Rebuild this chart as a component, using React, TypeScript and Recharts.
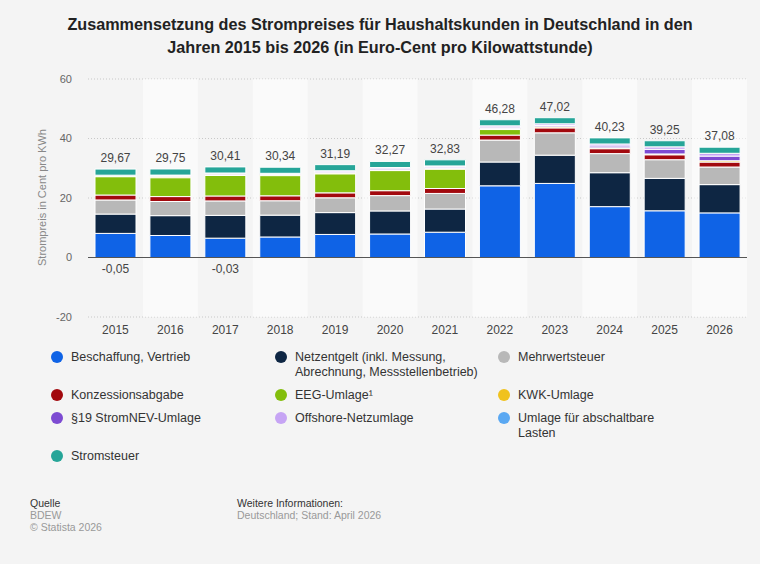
import React from 'react'
import {
  BarChart,
  Bar,
  XAxis,
  YAxis,
  CartesianGrid,
  ReferenceLine,
  ReferenceArea,
  LabelList,
} from 'recharts'

// Werte in Euro-Cent pro kWh
const years = ['2015', '2016', '2017', '2018', '2019', '2020', '2021', '2022', '2023', '2024', '2025', '2026']
const totals = [29.67, 29.75, 30.41, 30.34, 31.19, 32.27, 32.83, 46.28, 47.02, 40.23, 39.25, 37.08]
const beschaffung = [8.1, 7.4, 6.5, 6.9, 7.75, 7.9, 8.5, 24.1, 24.9, 17.1, 15.7, 15.0]
const netzentgelt = [6.5, 6.67, 7.66, 7.34, 7.34, 7.75, 7.79, 8.0, 9.5, 11.4, 10.9, 9.5]
const mehrwertsteuer = [4.74, 4.75, 4.86, 4.84, 4.98, 5.15, 5.24, 7.39, 7.51, 6.42, 6.27, 5.92]
const konzession = [1.66, 1.66, 1.66, 1.66, 1.66, 1.66, 1.66, 1.66, 1.66, 1.66, 1.66, 1.66]
const eeg = [6.17, 6.35, 6.88, 6.79, 6.41, 6.76, 6.5, 1.86, 0, 0, 0, 0]
const kwk = [0.25, 0.45, 0.44, 0.35, 0.28, 0.23, 0.25, 0.38, 0.36, 0.28, 0.28, 0.45]
const stromnev = [0.24, 0.38, 0.39, 0.37, 0.31, 0.36, 0.43, 0.44, 0.42, 0.64, 1.56, 1.56]
const offshore = [-0.05, 0.04, -0.03, 0.04, 0.42, 0.42, 0.4, 0.42, 0.59, 0.66, 0.82, 0.94]
const abschaltbar = [0.01, 0, 0.01, 0.01, 0.01, 0.01, 0.01, 0, 0, 0, 0, 0]
const stromsteuer = [2.05, 2.05, 2.05, 2.05, 2.05, 2.05, 2.05, 2.05, 2.05, 2.05, 2.05, 2.05]

const series = [
  { key: 'beschaffung', name: 'Beschaffung, Vertrieb', color: '#0f63e6', values: beschaffung },
  { key: 'netzentgelt', name: 'Netzentgelt (inkl. Messung, Abrechnung, Messstellenbetrieb)', color: '#0e2643', values: netzentgelt },
  { key: 'mwst', name: 'Mehrwertsteuer', color: '#b8b8b8', values: mehrwertsteuer },
  { key: 'konzession', name: 'Konzessionsabgabe', color: '#a2090e', values: konzession },
  { key: 'eeg', name: 'EEG-Umlage¹', color: '#83be0c', values: eeg },
  { key: 'kwk', name: 'KWK-Umlage', color: '#f0c21e', values: kwk },
  { key: 'stromnev', name: '§19 StromNEV-Umlage', color: '#7d4bd2', values: stromnev },
  { key: 'offshore', name: 'Offshore-Netzumlage', color: '#c6a4f4', values: offshore },
  { key: 'abschaltbar', name: 'Umlage für abschaltbare Lasten', color: '#5aa8f2', values: abschaltbar },
  { key: 'stromsteuer', name: 'Stromsteuer', color: '#26a598', values: stromsteuer },
]

// Legende: Zeilen mit je drei Spalten, Zeilenumbrüche wie im Original
const legendRows = [
  [
    { key: 'beschaffung', lines: ['Beschaffung, Vertrieb'] },
    { key: 'netzentgelt', lines: ['Netzentgelt (inkl. Messung,', 'Abrechnung, Messstellenbetrieb)'] },
    { key: 'mwst', lines: ['Mehrwertsteuer'] },
  ],
  [
    { key: 'konzession', lines: ['Konzessionsabgabe'] },
    { key: 'eeg', lines: ['EEG-Umlage¹'] },
    { key: 'kwk', lines: ['KWK-Umlage'] },
  ],
  [
    { key: 'stromnev', lines: ['§19 StromNEV-Umlage'] },
    { key: 'offshore', lines: ['Offshore-Netzumlage'] },
    { key: 'abschaltbar', lines: ['Umlage für abschaltbare', 'Lasten'] },
  ],
  [{ key: 'stromsteuer', lines: ['Stromsteuer'] }],
]

const data = years.map((year, i) => {
  const row: Record<string, string | number> = { year }
  series.forEach(s => { row[s.key] = s.values[i] })
  return row
})

const fmt = (v: number) => v.toFixed(2).replace('.', ',')
const FONT = "'Liberation Sans', Arial, Helvetica, sans-serif"

const TotalLabel = (props: any) => {
  const { x, y, width, index } = props
  return (
    <text x={x + width / 2} y={y - 7} textAnchor="middle" fill="#444" fontSize={12}>
      {fmt(totals[index])}
    </text>
  )
}

const NegativeLabel = (props: any) => {
  const { x, y, width, value, height } = props
  if (value >= 0) return null
  return (
    <text x={x + width / 2} y={y + Math.abs(height) + 15} textAnchor="middle" fill="#444" fontSize={12}>
      {fmt(value)}
    </text>
  )
}

const colorOf = (key: string) => series.find(s => s.key === key)!.color

export default function App() {
  return (
    <div
      style={{
        position: 'absolute',
        left: 0,
        top: 0,
        width: 760,
        height: 564,
        background: '#f4f4f4',
        fontFamily: FONT,
        overflow: 'hidden',
      }}
    >
      <div
        style={{
          position: 'absolute',
          top: 13,
          left: 0,
          width: 760,
          textAlign: 'center',
          fontWeight: 'bold',
          fontSize: 16.2,
          lineHeight: '23px',
          color: '#222',
        }}
      >
        Zusammensetzung des Strompreises für Haushaltskunden in Deutschland in den
        <br />
        Jahren 2015 bis 2026 (in Euro-Cent pro Kilowattstunde)
      </div>

      <div style={{ position: 'absolute', top: 0, left: 0 }}>
        <BarChart
          width={760}
          height={345}
          data={data}
          stackOffset="sign"
          margin={{ top: 79, right: 13, bottom: 0, left: 28 }}
        >
          {years.filter((_, i) => i % 2 === 1).map(y => (
            <ReferenceArea key={y} x1={y} x2={y} fill="#ffffff" fillOpacity={0.55} stroke="none" />
          ))}
          <CartesianGrid vertical={false} stroke="#c8c8c8" strokeDasharray="1 2" />
          <XAxis
            dataKey="year"
            axisLine={false}
            tickLine={false}
            height={28}
            tick={{ fill: '#444', fontSize: 12 }}
          />
          <YAxis
            domain={[-20, 60]}
            ticks={[-20, 0, 20, 40, 60]}
            width={60}
            axisLine={false}
            tickLine={false}
            tick={{ fill: '#666', fontSize: 11, dx: -8 }}
            label={{
              value: 'Strompreis in Cent pro KWh',
              angle: -90,
              position: 'insideLeft',
              dx: 9,
              dy: 68,
              style: { fill: '#888', fontSize: 11 },
            }}
          />
          <ReferenceLine y={0} stroke="#555" strokeWidth={1} />
          {series.map(s => (
            <Bar
              key={s.key}
              dataKey={s.key}
              name={s.name}
              stackId="a"
              fill={s.color}
              stroke="#ffffff"
              strokeWidth={1}
              barSize={41}
              isAnimationActive={false}
            >
              {s.key === 'stromsteuer' && <LabelList dataKey={s.key} content={TotalLabel} />}
              {s.key === 'offshore' && <LabelList dataKey={s.key} content={NegativeLabel} />}
            </Bar>
          ))}
        </BarChart>
      </div>

      <div style={{ position: 'absolute', top: 350, left: 0, width: 760, fontSize: 12.5, color: '#333' }}>
        {legendRows.map((row, ri) => (
          <div key={ri} style={{ display: 'flex', paddingBottom: 8 }}>
            {row.map((item, ci) => (
              <div
                key={item.key}
                style={{
                  position: 'relative',
                  marginLeft: ci === 0 ? 51 : 0,
                  width: ci === 0 ? 224 : 223,
                  paddingLeft: 20,
                  boxSizing: 'border-box',
                  lineHeight: '15px',
                }}
              >
                <span
                  style={{
                    position: 'absolute',
                    left: 0,
                    top: 1,
                    width: 12,
                    height: 12,
                    borderRadius: '50%',
                    background: colorOf(item.key),
                  }}
                />
                {item.lines.map((l, li) => (
                  <div key={li}>{l}</div>
                ))}
              </div>
            ))}
          </div>
        ))}
      </div>

      <div style={{ position: 'absolute', top: 497, left: 30, fontSize: 10.5, lineHeight: '12px' }}>
        <div style={{ color: '#333' }}>Quelle</div>
        <div style={{ color: '#999' }}>BDEW</div>
        <div style={{ color: '#999' }}>© Statista 2026</div>
      </div>
      <div style={{ position: 'absolute', top: 497, left: 237, fontSize: 10.5, lineHeight: '12px' }}>
        <div style={{ color: '#333' }}>Weitere Informationen:</div>
        <div style={{ color: '#999' }}>Deutschland; Stand: April 2026</div>
      </div>
    </div>
  )
}
